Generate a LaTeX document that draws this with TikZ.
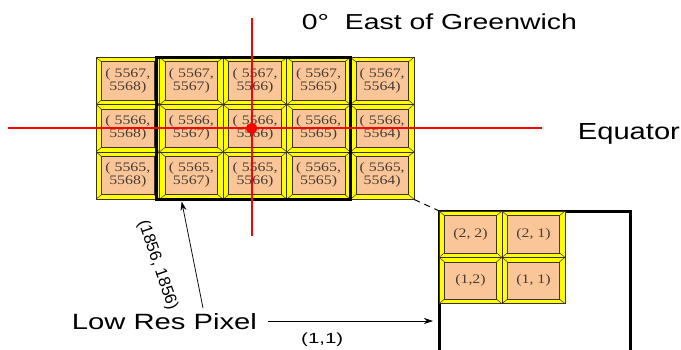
\documentclass[tikz,border=0pt]{standalone}
\usepackage{fontspec}
\setmainfont{Liberation Serif}
\setsansfont{Liberation Sans}
\usetikzlibrary{arrows.meta}
\definecolor{peach}{RGB}{250,198,152}
\definecolor{bev}{RGB}{255,255,0}
\definecolor{edge}{RGB}{60,50,40}
\definecolor{celltext}{RGB}{70,60,55}
\definecolor{axisred}{RGB}{255,0,0}
\newcommand{\cellpair}[2]{\scalebox{1.22}[1]{\begin{tabular}{@{}c@{}}#1\\#2\end{tabular}}}
\newcommand{\cellone}[1]{\scalebox{1.22}[1]{#1}}
\tikzset{
  cellbox/.style={draw=edge, line width=0.7pt, fill=bev,
    minimum width=63.6pt, minimum height=47.3pt, inner sep=0pt,
    font=\fontsize{13}{13}\selectfont, text=celltext,
    path picture={
      \path (path picture bounding box.north west) coordinate (pnw)
            (path picture bounding box.north east) coordinate (pne)
            (path picture bounding box.south west) coordinate (psw)
            (path picture bounding box.south east) coordinate (pse);
      \filldraw[fill=peach, draw=edge, line width=0.7pt]
        ([shift={(5.5pt,-4.5pt)}]pnw) rectangle ([shift={(-5.5pt,4.5pt)}]pse);
      \draw[edge, line width=0.5pt] (pnw) -- ([shift={(5.5pt,-4.5pt)}]pnw);
      \draw[edge, line width=0.5pt] (pne) -- ([shift={(-5.5pt,-4.5pt)}]pne);
      \draw[edge, line width=0.5pt] (psw) -- ([shift={(5.5pt,4.5pt)}]psw);
      \draw[edge, line width=0.5pt] (pse) -- ([shift={(-5.5pt,4.5pt)}]pse);
    }},
  smallcell/.style={cellbox, minimum width=63pt, minimum height=46.3pt},
  redline/.style={draw=axisred, line width=2pt},
  frame/.style={draw=black, line width=3pt},
  pointer/.style={draw=black, line width=0.7pt, -{Stealth[length=9pt,width=6pt]}},
  biglabel/.style={font=\sffamily, inner sep=0pt, anchor=base west}
}
\begin{document}
\begin{tikzpicture}[x=1pt,y=-1pt]
\useasboundingbox (0,0) rectangle (681,349);
% big grid
\foreach \r/\rl in {0/5567,1/5566,2/5565}{
  \foreach \c/\cv in {0/5568,1/5567,2/5566,3/5565,4/5564}{
    \node[cellbox] (c-\c-\r) at ({96+63.6*(\c+0.5)},{57.3+47.3*(\r+0.5)}) {\cellpair{( \rl,}{\cv)}};
  }
}
% frame of the low res pixel
\draw[frame] (156.7,57.6) rectangle (350,199);
% red axes
\draw[redline] (251.7,18) -- (251.7,236);
\draw[redline] (8,128.3) -- (542,128.3);
\fill[axisred] (251.7,128.3) ellipse [x radius=6pt, y radius=5pt];
% zoomed pixel
\draw[frame] (439,352) -- (439,211) -- (630,211) -- (630,352);
\node[smallcell] (s-0-0) at (470.5,234.2) {\cellone{(2, 2)}};
\node[smallcell] (s-1-0) at (533.5,234.2) {\cellone{(2, 1)}};
\node[smallcell] (s-0-1) at (470.5,280.5) {\cellone{(1,2)}};
\node[smallcell] (s-1-1) at (533.5,280.5) {\cellone{(1, 1)}};
\draw[line width=1pt, dash pattern=on 6pt off 5pt] (c-4-2.south east) -- (s-0-0.north west);
% labels
\node[biglabel] (green) at (301.7,29) {\resizebox{275pt}{15.7pt}{0°\ \ East of Greenwich}};
\node[biglabel] (equ) at (577.7,139.3) {\resizebox{102pt}{16pt}{Equator}};
\node[biglabel] (lrp) at (71.7,329.3) {\resizebox{185pt}{16pt}{Low Res Pixel}};
\node[biglabel] (one) at (301,343.6) {\resizebox{42pt}{10.6pt}{(1,1)}};
\node[font=\sffamily\fontsize{16.5}{16.5}\selectfont, rotate=-71, inner sep=0pt] (dim) at (157.5,265) {(1856, 1856)};
% pointers
\coordinate (p1s) at (203,308);
\coordinate (p1e) at (181.7,201.5);
\coordinate (p2s) at (268,321);
\coordinate (p2e) at (433,321);
\draw[pointer] (p1s) -- (p1e);
\draw[pointer] (p2s) -- (p2e);
\end{tikzpicture}
\end{document}
